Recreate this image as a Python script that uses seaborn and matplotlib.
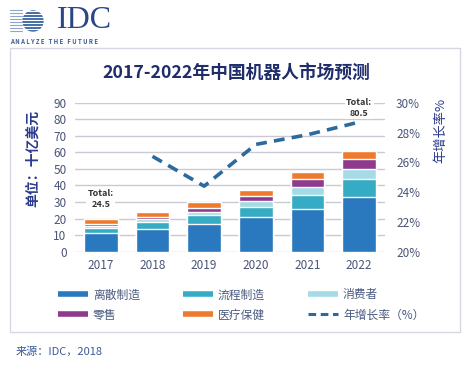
import numpy as np
import pandas as pd
import matplotlib
matplotlib.use("Agg")
import matplotlib.pyplot as plt
from matplotlib.lines import Line2D
from matplotlib.patches import Rectangle, Ellipse
import seaborn as sns

sns.set_theme(style="white")
plt.rcParams['font.family'] = ['Noto Sans CJK SC', 'DejaVu Sans']

# data (billion USD, stacked segments)
years = ['2017', '2018', '2019', '2020', '2021', '2022']
discrete = [11.5, 13.7, 16.7, 21.0, 25.8, 32.8]
process = [3.0, 4.0, 5.3, 6.0, 8.4, 10.9]
consumer = [1.0, 1.9, 2.0, 3.4, 4.7, 6.4]
retail = [1.2, 1.5, 2.2, 3.2, 4.8, 5.9]
medical = [3.0, 2.7, 3.6, 3.7, 4.6, 5.0]
growth_years = ['2018', '2019', '2020', '2021', '2022']
growth = [26.4, 24.4, 27.2, 27.85, 28.7]
series_names = ['离散制造', '流程制造', '消费者', '零售', '医疗保健']
colors = ['#2a78bd', '#35abc4', '#a5dbe6', '#8e3b8f', '#ee7a2e']
line_color = '#2b6a9c'
navy = '#1f2d6b'
tick_col = '#4a5578'

df = pd.DataFrame({'year': years, '离散制造': discrete, '流程制造': process,
                   '消费者': consumer, '零售': retail, '医疗保健': medical})
cum = df[series_names].cumsum(axis=1)

fig = plt.figure(figsize=(4.72, 3.67), dpi=100)
ax = fig.add_axes([75/472, 1-251.7/367, 310/472, 149/367])

# stacked bars: draw cumulative totals from top down
for name, col in reversed(list(zip(series_names, colors))):
    sns.barplot(x=df['year'], y=cum[name], color=col, width=0.65,
                saturation=1, ax=ax, zorder=3)

ax.set_ylim(0, 90)
ax.set_xlim(-0.5, 5.5)
ax.set_yticks(range(0, 91, 10))
ax.yaxis.grid(True, color='#c9cad4', lw=1, zorder=0)
ax.set_axisbelow(True)
for s in ax.spines.values():
    s.set_visible(False)
ax.set_xlabel('')
ax.set_ylabel('')
ax.tick_params(axis='y', length=0, pad=6, labelsize=8.5, labelcolor=tick_col)
ax.tick_params(axis='x', length=0, pad=5, labelsize=8.5, labelcolor=tick_col)

ax.text(0, 31.8, 'Total:\n24.5', ha='center', va='center', fontsize=6.5,
        fontweight='bold', color='#333333', linespacing=1.3, zorder=5,
        bbox=dict(facecolor='white', edgecolor='none', pad=1))
ax.text(5, 87, 'Total:\n80.5', ha='center', va='center', fontsize=6.5,
        fontweight='bold', color='#333333', linespacing=1.3, zorder=5,
        bbox=dict(facecolor='white', edgecolor='none', pad=1))

# growth rate on right axis
ax2 = ax.twinx()
gx = [years.index(y) for y in growth_years]
sns.lineplot(x=gx, y=growth, ax=ax2, color=line_color, lw=2.6, zorder=6)
ax2.lines[0].set_dashes((3, 2))
ax2.set_ylim(20, 30)
ax2.set_xlim(-0.5, 5.5)
ax2.set_yticks(range(20, 31, 2))
ax2.set_yticklabels([f'{v}%' for v in range(20, 31, 2)])
ax2.tick_params(axis='y', length=0, pad=8, labelsize=8.5, labelcolor=tick_col)
ax2.grid(False)
for s in ax2.spines.values():
    s.set_visible(False)

# frame, titles, axis labels
fig.patches.append(Rectangle((10/472, 1-332/367), 450/472, 284/367,
                             transform=fig.transFigure, fill=False,
                             edgecolor='#d5d7e3', lw=1))
fig.text(236/472, 1-73/367, '2017-2022年中国机器人市场预测', ha='center',
         va='center', fontsize=12.8, fontweight='bold', color=navy)
fig.text(33/472, 1-158/367, '单位：十亿美元', rotation=90, ha='center',
         va='center', fontsize=10, fontweight='bold', color='#2b3a8c')
fig.text(441/472, 1-130/367, '年增长率%', rotation=90, ha='center',
         va='center', fontsize=9.5, color='#2b3a8c')
fig.text(16/472, 1-351/367, '来源：IDC，2018', ha='left', va='center',
         fontsize=8, color='#3b5a9a')

# IDC logo
lg = fig.add_axes([10/472, 1-36/367, 45/472, 30/367])
lg.set_xlim(0, 45)
lg.set_ylim(0, 30)
lg.axis('off')
lg.add_patch(Ellipse((23, 15), 20, 20, color='#2e5d9e'))
for yy in range(4, 28, 3):
    lg.plot([0, 45], [yy, yy], color='white', lw=0.9)
    lg.plot([0, 12], [yy + 1.5, yy + 1.5], color='#8fa6c8', lw=0.8)
fig.text(57/472, 1-20/367, 'IDC', ha='left', va='center', fontsize=23,
         family='Liberation Serif', color='#2a4684')
fig.text(10/472, 1-41/367, 'A N A L Y Z E   T H E   F U T U R E', ha='left',
         va='center', fontsize=4.3, fontweight='bold', color='#3d5c92')

# legend
handles = [Line2D([], [], color=c, lw=4, solid_capstyle='butt') for c in colors]
handles.append(Line2D([], [], color=line_color, lw=2.2, dashes=(2.5, 1.5)))
labels = series_names + ['年增长率（%）']
order = [0, 3, 1, 4, 2, 5]
fig.legend([handles[i] for i in order], [labels[i] for i in order],
           ncol=3, loc='center', bbox_to_anchor=(241/472, 1-305/367),
           frameon=False, fontsize=8.5, handlelength=2.6, columnspacing=3.6,
           labelcolor='#4a5a80', handletextpad=0.4, labelspacing=0.6)

fig.savefig('out.png', dpi=100)
